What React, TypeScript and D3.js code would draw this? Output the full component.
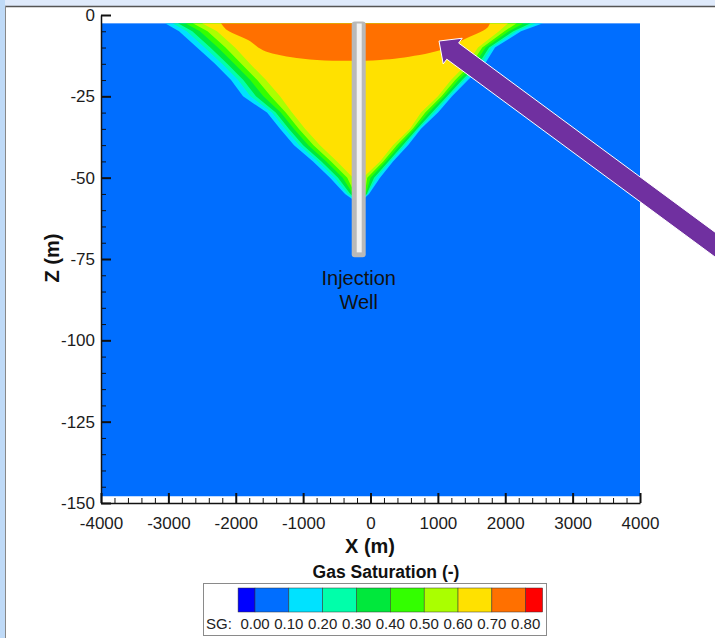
import React, { useEffect, useRef } from "react";
import { axisBottom, axisLeft, curveCatmullRom, curveLinear, line, range, scaleLinear, select } from "d3";

const FONT = "'Liberation Sans', Arial, Helvetica, sans-serif";

// axis ticks
const xMajorTicks = [-4000, -3000, -2000, -1000, 0, 1000, 2000, 3000, 4000];
const zMajorTicks = [0, -25, -50, -75, -100, -125, -150];

// legend (Gas Saturation)
const legendValues = [0, 0.1, 0.2, 0.3, 0.4, 0.5, 0.6, 0.7, 0.8];
const legendLabels = ["0.00", "0.10", "0.20", "0.30", "0.40", "0.50", "0.60", "0.70", "0.80"];
const legendColors = ["#0000ff", "#006eff", "#00e2ff", "#00ffaa", "#00e83c", "#33ff00", "#aaff00", "#ffe100", "#ff7000", "#ff0000"];

// plume contours, X (m) of each SG level edge at these depths (m)
const plumeDepths = [-2.5, -5, -10, -15, -20, -25, -30, -35, -40, -45, -50, -55];
const sg10Left = [-3050, -2842, -2575, -2308, -2070, -1892, -1536, -1343, -1135, -853, -601, -378];
const sg10Right = [2560, 2234, 1848, 1699, 1447, 1210, 1002, 750, 557, 334, 141, -22];
const sg20Left = [-2940, -2729, -2462, -2204, -1966, -1782, -1462, -1269, -1058, -782, -533, -340];
const sg20Right = [2456, 2169, 1798, 1646, 1397, 1168, 952, 717, 512, 295, 91, -40];
const sg30Left = [-2858, -2645, -2378, -2126, -1888, -1700, -1406, -1213, -1000, -728, -482, -300];
const sg30Right = [2378, 2120, 1760, 1606, 1359, 1137, 914, 693, 479, 266, 53, -55];
const sg40Left = [-2748, -2532, -2265, -2022, -1785, -1590, -1332, -1139, -923, -657, -413, -260];
const sg40Right = [2275, 2054, 1709, 1552, 1308, 1096, 863, 660, 434, 228, 2, -70];
const sg50Left = [-2638, -2419, -2152, -1918, -1681, -1480, -1258, -1065, -846, -586, -345, -230];
const sg50Right = [2171, 1989, 1659, 1499, 1258, 1054, 813, 627, 390, 189, -48, -85];
const sg60Left = [-2501, -2278, -2011, -1788, -1551, -1343, -1165, -972, -750, -497, -260];
const sg60Right = [2041, 1907, 1596, 1432, 1195, 1002, 750, 586, 334, 141, -111];
const apexDepths = [-58, -57.5, -57, -56.5, -56, -51];

// SG > 0.7 cap just under the top
const orangeX = [-2219, -2130, -1818, -1596, -1195, -794, -304, 141, 438, 1031, 1432, 1729, 1774];
const orangeZ = [-2.5, -4.6, -7.7, -10.8, -12.9, -13.8, -14.1, -13.8, -13.2, -10.8, -7.1, -4.0, -2.5];

// well and arrow annotation (data coords)
const wellX = -175;
const wellTop = -2;
const wellBottom = -74.5;
const arrowTip = [1017, -8];
const arrowTail = [5600, -78];

const x = scaleLinear().domain([-4000, 4000]).range([101, 640]);
const z = scaleLinear().domain([0, -150]).range([15, 503]);

function styleAxis(g, size) {
  g.select(".domain").attr("stroke", "#111").attr("stroke-width", 1.5);
  g.selectAll(".tick line").attr("stroke", "#111").attr("stroke-width", size);
  g.selectAll("text").attr("font-size", 17).attr("font-family", FONT).attr("fill", "#1c1c1c");
}

function AxisLeft() {
  const ref = useRef(null);
  const minorRef = useRef(null);
  useEffect(() => {
    const minor = range(0, -151, -5).filter((v) => v % 25 !== 0);
    const g = select(ref.current);
    g.call(axisLeft(z).tickValues(zMajorTicks).tickSizeInner(-10).tickSizeOuter(0).tickPadding(6).tickFormat((d) => String(d)));
    styleAxis(g, 2);
    const m = select(minorRef.current);
    m.call(axisLeft(z).tickValues(minor).tickSizeInner(-5).tickSizeOuter(0).tickFormat(() => ""));
    m.select(".domain").remove();
    m.selectAll(".tick line").attr("stroke", "#111").attr("stroke-width", 1);
  }, []);
  return (
    <g transform={`translate(${x(-4000)},0)`}>
      <g ref={minorRef} />
      <g ref={ref} />
    </g>
  );
}

function AxisBottom() {
  const ref = useRef(null);
  const minorRef = useRef(null);
  useEffect(() => {
    const minor = range(-4000, 4001, 200).filter((v) => v % 1000 !== 0);
    const g = select(ref.current);
    g.call(axisBottom(x).tickValues(xMajorTicks).tickSizeInner(-10).tickSizeOuter(0).tickPadding(14).tickFormat((d) => String(d)));
    styleAxis(g, 2);
    const m = select(minorRef.current);
    m.call(axisBottom(x).tickValues(minor).tickSizeInner(-5).tickSizeOuter(0).tickFormat(() => ""));
    m.select(".domain").remove();
    m.selectAll(".tick line").attr("stroke", "#111").attr("stroke-width", 1);
  }, []);
  return (
    <g transform={`translate(0,${z(-150)})`}>
      <g ref={minorRef} />
      <g ref={ref} />
    </g>
  );
}

function levelPoints(left, right, apex) {
  const pts = left.map((v, i) => [v, plumeDepths[i]]);
  pts.push([wellX, apex]);
  for (let i = right.length - 1; i >= 0; i--) pts.push([right[i], plumeDepths[i]]);
  return pts;
}

function Plume() {
  const levels = [
    { color: legendColors[2], pts: levelPoints(sg10Left, sg10Right, apexDepths[0]) },
    { color: legendColors[3], pts: levelPoints(sg20Left, sg20Right, apexDepths[1]) },
    { color: legendColors[4], pts: levelPoints(sg30Left, sg30Right, apexDepths[2]) },
    { color: legendColors[5], pts: levelPoints(sg40Left, sg40Right, apexDepths[3]) },
    { color: legendColors[6], pts: levelPoints(sg50Left, sg50Right, apexDepths[4]) },
    { color: legendColors[7], pts: levelPoints(sg60Left, sg60Right, apexDepths[5]) },
  ];
  const path = line().x((d) => x(d[0])).y((d) => z(d[1])).curve(curveLinear);
  const smooth = line().x((d) => x(d[0])).y((d) => z(d[1])).curve(curveCatmullRom);
  const orangePts = orangeX.map((v, i) => [v, orangeZ[i]]);
  return (
    <g clipPath="url(#plotClip)">
      <rect x={x(-4000)} y={z(-2.5)} width={x(4000) - x(-4000)} height={z(-148) - z(-2.5)} fill={legendColors[1]} />
      {levels.map((l, i) => (
        <path key={i} d={path(l.pts) + "Z"} fill={l.color} />
      ))}
      <path d={smooth(orangePts) + "Z"} fill={legendColors[8]} />
    </g>
  );
}

function Well() {
  const cx = x(wellX);
  const top = z(wellTop);
  const bottom = z(wellBottom);
  return (
    <g>
      <rect x={cx - 7} y={top} width={14} height={bottom - top} rx={3} fill="#b9b9b9" />
      <rect x={cx - 2} y={top + 2} width={5} height={bottom - top - 7} fill="#f2f2f2" />
      <text x={cx} y={285} textAnchor="middle" fontFamily={FONT} fontSize={20} fill="#111">Injection</text>
      <text x={cx} y={309} textAnchor="middle" fontFamily={FONT} fontSize={20} fill="#111">Well</text>
    </g>
  );
}

function Arrow() {
  const tx = x(arrowTip[0]), ty = z(arrowTip[1]);
  const ex = x(arrowTail[0]), ey = z(arrowTail[1]);
  const len = Math.hypot(ex - tx, ey - ty);
  const ux = (ex - tx) / len, uy = (ey - ty) / len;
  const px = -uy, py = ux;
  const headLen = 17, headHalf = 16, shaftHalf = 10;
  const bx = tx + ux * headLen, by = ty + uy * headLen;
  const pts = [
    [tx, ty],
    [bx + px * headHalf, by + py * headHalf],
    [bx + px * shaftHalf, by + py * shaftHalf],
    [ex + px * shaftHalf, ey + py * shaftHalf],
    [ex - px * shaftHalf, ey - py * shaftHalf],
    [bx - px * shaftHalf, by - py * shaftHalf],
    [bx - px * headHalf, by - py * headHalf],
  ];
  return <polygon points={pts.map((p) => p.join(",")).join(" ")} fill="#7030a0" stroke="#ffffff" strokeWidth={1} />;
}

function Legend() {
  const s = scaleLinear().domain([0, 0.8]).range([255, 525.7]);
  const edges = [-0.05, ...legendValues, 0.85];
  return (
    <g fontFamily={FONT}>
      <text x={386} y={578} textAnchor="middle" fontSize={17.5} fontWeight="bold" fill="#111">Gas Saturation (-)</text>
      <rect x={203.5} y={583.5} width={343} height={52} fill="#fff" stroke="#8a8a8a" />
      {legendColors.map((c, i) => (
        <rect key={c} x={s(edges[i])} y={588} width={s(edges[i + 1]) - s(edges[i])} height={24} fill={c} stroke="#333" strokeWidth={0.5} />
      ))}
      <text x={206} y={629} fontSize={15} fill="#222">SG:</text>
      {legendValues.map((v, i) => (
        <text key={v} x={s(v)} y={629} textAnchor="middle" fontSize={15} fill="#222">{legendLabels[i]}</text>
      ))}
    </g>
  );
}

export default function App() {
  return (
    <div style={{ position: "absolute", left: 0, top: 0 }}>
      <svg width={715} height={638} style={{ display: "block" }}>
        <defs>
          <clipPath id="plotClip">
            <rect x={x(-4000)} y={z(-2.5)} width={x(4000) - x(-4000)} height={z(-148) - z(-2.5)} />
          </clipPath>
        </defs>
        <rect width={715} height={638} fill="#dfeafb" />
        <rect x={0} y={0} width={5} height={638} fill="#bfdaf7" />
        <rect x={6} y={7} width={709} height={631} fill="#ffffff" />
        <line x1={5} x2={715} y1={6.5} y2={6.5} stroke="#555" strokeWidth={1.5} />
        <line x1={5.5} x2={5.5} y1={6} y2={638} stroke="#888" strokeWidth={1} />
        <Plume />
        <AxisLeft />
        <AxisBottom />
        <Well />
        <Arrow />
        <text x={370} y={553} textAnchor="middle" fontFamily={FONT} fontSize={20} fontWeight="bold" fill="#111">X (m)</text>
        <text transform="translate(59,258) rotate(-90)" textAnchor="middle" fontFamily={FONT} fontSize={20} fontWeight="bold" fill="#111">Z (m)</text>
        <Legend />
      </svg>
    </div>
  );
}
